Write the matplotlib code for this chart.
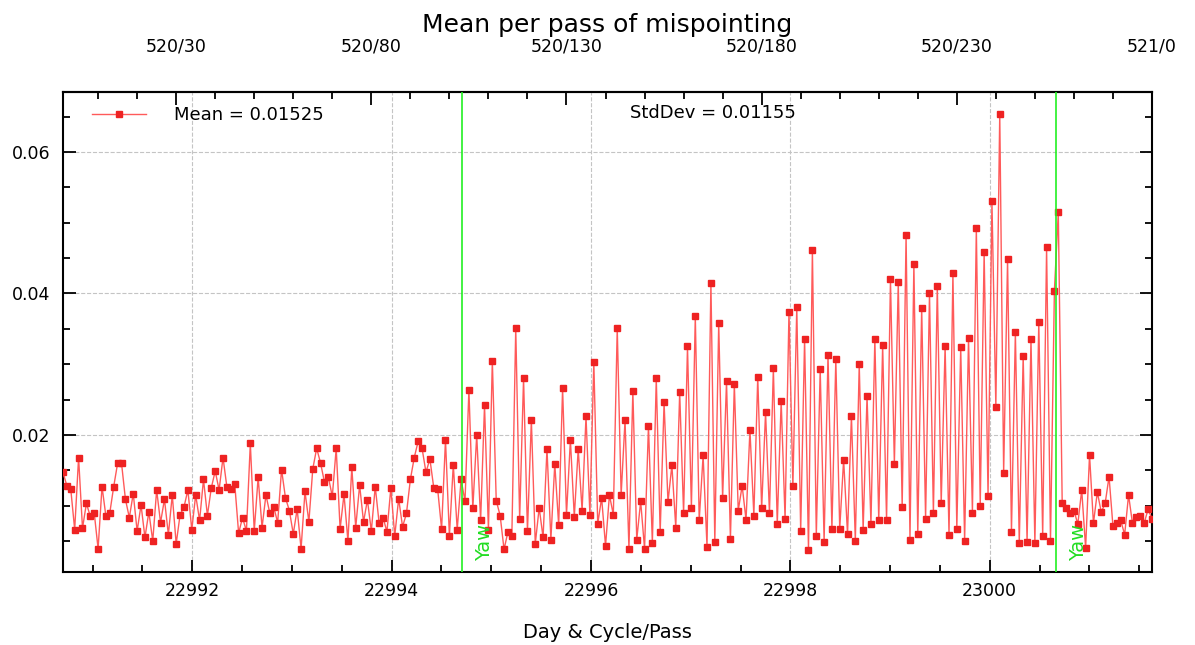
import numpy as np
import matplotlib as mpl
mpl.use('Agg')
import matplotlib.pyplot as plt
from matplotlib.ticker import MultipleLocator, FixedLocator, FuncFormatter

# mean mispointing, one value per pass (passes 1..280 of cycle 520)
passes = np.arange(1, 281)
mispointing = [
    0.0147, 0.0128, 0.0123, 0.0066, 0.0168, 0.0068, 0.0103, 0.0085, 0.0090, 0.0039,
    0.0127, 0.0085, 0.0090, 0.0127, 0.0160, 0.0160, 0.0109, 0.0083, 0.0117, 0.0064,
    0.0101, 0.0055, 0.0091, 0.0050, 0.0122, 0.0076, 0.0109, 0.0059, 0.0115, 0.0046,
    0.0087, 0.0098, 0.0122, 0.0066, 0.0115, 0.0079,
    0.0137, 0.0086, 0.0125, 0.0149, 0.0122, 0.0168, 0.0126, 0.0123, 0.0131, 0.0061,
    0.0083, 0.0064, 0.0188, 0.0064, 0.0140, 0.0069, 0.0115, 0.0089, 0.0098, 0.0076,
    0.0151, 0.0111, 0.0093, 0.0060, 0.0095, 0.0039, 0.0120, 0.0077, 0.0152, 0.0181,
    0.0160, 0.0133, 0.0140, 0.0113,
    0.0181, 0.0067, 0.0116, 0.0050, 0.0154, 0.0069, 0.0129, 0.0077, 0.0108, 0.0064,
    0.0127, 0.0075, 0.0083, 0.0063, 0.0125, 0.0057, 0.0110, 0.0070, 0.0089, 0.0137,
    0.0168, 0.0191, 0.0181, 0.0147, 0.0166, 0.0125, 0.0123, 0.0067, 0.0193, 0.0057,
    0.0158, 0.0066, 0.0137, 0.0106, 0.0264,
    0.0096, 0.0200, 0.0079, 0.0242, 0.0066, 0.0305, 0.0107, 0.0086, 0.0038, 0.0063,
    0.0057, 0.0351, 0.0081, 0.0280, 0.0064, 0.0221, 0.0046, 0.0097, 0.0055, 0.0180,
    0.0052, 0.0159, 0.0072, 0.0266, 0.0087, 0.0193, 0.0084, 0.0180, 0.0093, 0.0226,
    0.0087, 0.0303, 0.0074,
    0.0111, 0.0043, 0.0115, 0.0087, 0.0351, 0.0115, 0.0221, 0.0039, 0.0262, 0.0052,
    0.0106, 0.0039, 0.0213, 0.0047, 0.0280, 0.0062, 0.0246, 0.0105, 0.0157, 0.0069,
    0.0260, 0.0089, 0.0325, 0.0097, 0.0368, 0.0079, 0.0171, 0.0042, 0.0415, 0.0049,
    0.0358, 0.0111, 0.0276, 0.0053, 0.0272,
    0.0093, 0.0128, 0.0080, 0.0207, 0.0086, 0.0282, 0.0096, 0.0232, 0.0089, 0.0294,
    0.0074, 0.0248, 0.0081, 0.0374, 0.0128, 0.0381, 0.0064, 0.0336, 0.0037, 0.0462,
    0.0057, 0.0293, 0.0049, 0.0313, 0.0067, 0.0307, 0.0067, 0.0165, 0.0060, 0.0227,
    0.0050, 0.0300, 0.0066, 0.0255, 0.0074,
    0.0336, 0.0079, 0.0327, 0.0079, 0.0420, 0.0159, 0.0416, 0.0098, 0.0483, 0.0052,
    0.0442, 0.0060, 0.0380, 0.0081, 0.0400, 0.0089, 0.0411, 0.0103, 0.0326, 0.0059,
    0.0429, 0.0067, 0.0324, 0.0050, 0.0337, 0.0090, 0.0493, 0.0100, 0.0459, 0.0113,
    0.0530, 0.0240, 0.0654, 0.0146,
    0.0448, 0.0063, 0.0345, 0.0047, 0.0312, 0.0049, 0.0336, 0.0047, 0.0360, 0.0057,
    0.0465, 0.0050, 0.0404, 0.0515, 0.0103, 0.0097, 0.0090, 0.0093, 0.0074, 0.0122,
    0.0040, 0.0172, 0.0075, 0.0119, 0.0091, 0.0103, 0.0141, 0.0071, 0.0076, 0.0079,
    0.0059, 0.0115, 0.0075, 0.0084, 0.0086, 0.0075, 0.0095, 0.0081,
]

mean_label = 'Mean = 0.01525'
std_label = 'StdDev = 0.01155'

# yaw manoeuvres (day)
yaw_days = [22994.71, 23000.665]

cycle = 520
passes_per_cycle = 280
top_ticks = [30, 80, 130, 180, 230, 280]

# pass <-> day conversion
day_ref = 22991.839   # day of pass 30
pass_ref = 30
passes_per_day = 25.54


def pass2day(p):
    return day_ref + (np.asarray(p) - pass_ref) / passes_per_day


def day2pass(d):
    return pass_ref + (np.asarray(d) - day_ref) * passes_per_day


def cycle_pass(p, pos=None):
    p = int(round(p))
    return '%d/%d' % (cycle + p // passes_per_cycle, p % passes_per_cycle)


days = pass2day(passes)
vals = np.array(mispointing)

fig = plt.figure(figsize=(11.95, 6.45), dpi=100)
ax = fig.add_axes([0.0527, 0.1132, 0.9113, 0.7442])

ax.plot(days, vals, '-', color='#ff5a5a', lw=1.0, marker='s', ms=3.8,
        mfc='#ee2222', mec='#ee2222', label=mean_label, zorder=3)

for d in yaw_days:
    ax.axvline(d, color='#22f022', lw=1.2, zorder=4)

span = vals.max() - vals.min()
ax.set_ylim(vals.min() - 0.05 * span, vals.max() + 0.05 * span)
ax.set_xlim(days[0], days[-1])

for d in yaw_days:
    ax.text(d + 0.13, vals.min() - 0.05 * span + 0.0016, 'Yaw', rotation=90,
            color='#22dd22', fontsize=14, ha='left', va='bottom', zorder=5)

ax.xaxis.set_major_locator(MultipleLocator(2))
ax.xaxis.set_minor_locator(MultipleLocator(0.5))
ax.xaxis.set_major_formatter(FuncFormatter(lambda x, pos: '%d' % x))
ax.yaxis.set_major_locator(MultipleLocator(0.02))
ax.yaxis.set_minor_locator(MultipleLocator(0.005))
ax.yaxis.set_major_formatter(FuncFormatter(lambda y, pos: '%.2f' % y))

ax.tick_params(which='both', direction='in', top=False, right=True, width=1.3)
ax.tick_params(which='major', length=9, labelsize=12.5)
ax.tick_params(which='minor', length=5)
ax.tick_params(axis='x', which='major', pad=7)
ax.tick_params(axis='y', which='major', pad=9)

ax.grid(True, which='major', linestyle='--', color='#c4c4c4', linewidth=0.8)

top = ax.secondary_xaxis('top', functions=(day2pass, pass2day))
top.xaxis.set_major_locator(FixedLocator(top_ticks))
top.xaxis.set_minor_locator(MultipleLocator(10))
top.xaxis.set_major_formatter(FuncFormatter(cycle_pass))
top.tick_params(which='both', direction='in', width=1.3)
top.tick_params(which='major', length=9, labelsize=12.5, pad=26)
top.tick_params(which='minor', length=5)
top.spines['top'].set_linewidth(1.5)

for s in ax.spines.values():
    s.set_linewidth(1.5)

ax.legend(loc='upper left', bbox_to_anchor=(0.012, 1.005), frameon=False,
          handlelength=3.0, handletextpad=1.5, fontsize=13)
ax.text(0.5207, 0.956, std_label, transform=ax.transAxes, fontsize=13,
        ha='left', va='center')

ax.set_xlabel('Day & Cycle/Pass', fontsize=14, labelpad=17)
fig.text(0.5084, 0.962, 'Mean per pass of mispointing', fontsize=18,
         ha='center', va='center')

fig.savefig('out.png', dpi=100)
plt.close('all')
